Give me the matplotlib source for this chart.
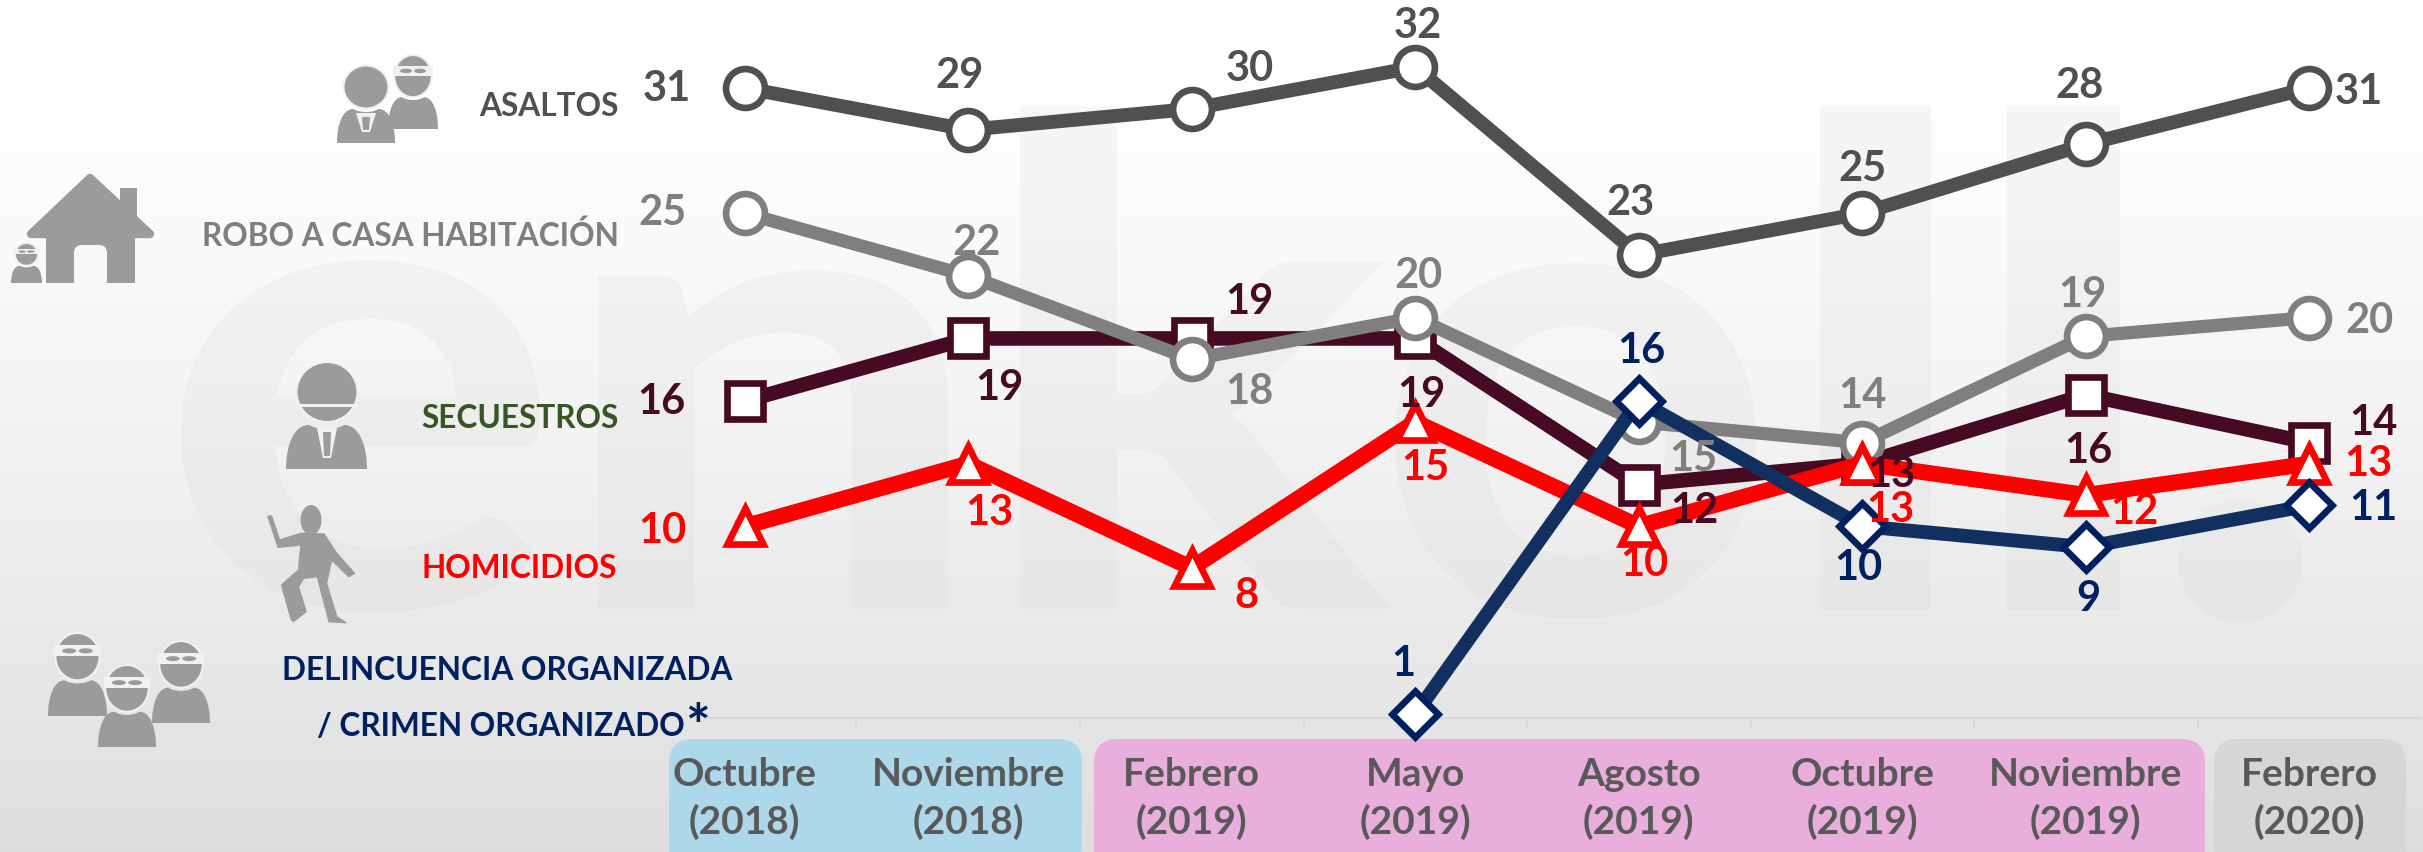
import matplotlib
matplotlib.use('Agg')
import matplotlib.pyplot as plt
import numpy as np
from matplotlib.patches import Ellipse, FancyBboxPatch, PathPatch, Polygon, Rectangle
from matplotlib.path import Path
from matplotlib.textpath import TextPath
from matplotlib.font_manager import FontProperties
from matplotlib.transforms import Affine2D

plt.rcParams['font.family'] = ['Lato', 'DejaVu Sans']
plt.rcParams['font.weight'] = 'bold'

meses = ['Octubre\n(2018)', 'Noviembre\n(2018)', 'Febrero\n(2019)', 'Mayo\n(2019)',
         'Agosto\n(2019)', 'Octubre\n(2019)', 'Noviembre\n(2019)', 'Febrero\n(2020)']
asaltos = [31, 29, 30, 32, 23, 25, 28.3, 31]
robo = [25, 22, 18, 20, 15, 14, 19.1, 20]
secuestros = [16, 19, 19, 19, 12, 13, 16.3, 14]
homicidios = [10, 13, 8, 15, 10, 13, 11.5, 13]
delincuencia = [np.nan, np.nan, np.nan, 1, 16, 10, 9, 11]

W, H = 2423, 852
ICON = '#9b9b9b'
BAND = '#f1f1f1'

fig = plt.figure(figsize=(W / 100, H / 100), dpi=100)

# fondo en pixeles
bg = fig.add_axes([0, 0, 1, 1], zorder=0)
bg.axis('off')
grad = np.linspace(0, 1, 256).reshape(-1, 1) ** 1.4
bg.imshow(grad, extent=(0, W, H, 0), aspect='auto', cmap='gray_r', vmin=0, vmax=7.5, zorder=0)
bg.set_xlim(0, W)
bg.set_ylim(H, 0)

# marca de agua, letra por letra
prop = FontProperties(family='Lato', weight='bold')
for ch, x0, x1, y0, y1 in [('e', 181, 540, 260, 612), ('n', 598, 948, 270, 609), ('k', 1020, 1391, 106, 609),
                           ('o', 1395, 1756, 263, 619), ('l', 1820, 1931, 106, 610), ('l', 2007, 2120, 106, 610),
                           ('.', 2178, 2303, 500, 622)]:
    tp = TextPath((0, 0), ch, size=100, prop=prop)
    bb = tp.get_extents()
    tr = (Affine2D().translate(-bb.x0, -bb.y0)
          .scale((x1 - x0) / bb.width, -(y1 - y0) / bb.height)
          .translate(x0, y1))
    bg.add_patch(PathPatch(tr.transform_path(tp), fc='#d0d0d0', ec='none', alpha=0.16, zorder=1))

# franjas de periodos
for x0, x1, col in [(669, 1082, '#add8e9'), (1094, 2205, '#e9aedb'), (2214, 2406, '#d6d6d6')]:
    bg.add_patch(FancyBboxPatch((x0 + 24, 739 + 24), x1 - x0 - 48, 160,
                                boxstyle='round,pad=24,rounding_size=24', fc=col, ec='none', zorder=2))


def cuerpo(x0, x1, y0, y1):
    # tronco en forma de campana
    w = x1 - x0
    verts = [(x0, y1), (x0, y0 + 0.45 * (y1 - y0)), (x0 + 0.1 * w, y0), (x0 + 0.28 * w, y0),
             (x0 + 0.4 * w, y0 + 0.12 * (y1 - y0)), (x0 + 0.6 * w, y0 + 0.12 * (y1 - y0)), (x0 + 0.72 * w, y0),
             (x0 + 0.9 * w, y0), (x1, y0 + 0.45 * (y1 - y0)), (x1, y1), (x0, y1)]
    codes = [Path.MOVETO, Path.CURVE4, Path.CURVE4, Path.CURVE4, Path.CURVE4, Path.CURVE4, Path.CURVE4,
             Path.CURVE4, Path.CURVE4, Path.CURVE4, Path.CLOSEPOLY]
    bg.add_patch(PathPatch(Path(verts, codes), fc=ICON, ec='none', zorder=3))


def enmascarado(x0, x1, y0, y1):
    w, h = x1 - x0, y1 - y0
    cx = (x0 + x1) / 2
    cuerpo(x0, x1, y0 + 0.57 * h, y1)
    bg.add_patch(Ellipse((cx, y0 + 0.285 * h), 0.75 * w, 0.57 * h, fc=ICON, ec=BAND, lw=1.5, zorder=4))
    bg.add_patch(Rectangle((cx - 0.4 * w, y0 + 0.15 * h), 0.8 * w, 0.13 * h, fc=BAND, ec='none', zorder=5))
    for dx in (-0.14, 0.14):
        bg.add_patch(Ellipse((cx + dx * w, y0 + 0.215 * h), 0.24 * w, 0.06 * h, fc=ICON, ec='none', zorder=6))


def corbata(cx, y0, y1):
    bg.add_patch(Polygon([(cx - 10, y0), (cx + 10, y0), (cx + 4, y1), (cx - 4, y1)], fc=BAND, ec='none', zorder=5))
    bg.add_patch(Polygon([(cx - 4, y0 + 4), (cx + 4, y0 + 4), (cx + 3, y1 - 2), (cx - 3, y1 - 2)],
                         fc=ICON, ec='none', zorder=6))


# asaltos
enmascarado(388, 438, 55, 129)
cuerpo(337, 395, 109, 143)
bg.add_patch(Ellipse((366, 87), 45, 43, fc=ICON, ec=BAND, lw=1.5, zorder=4))
corbata(366, 113, 132)

# casa
bg.add_patch(Rectangle((120, 188), 17, 50, fc=ICON, ec='none', zorder=3))
bg.add_patch(Polygon([(90, 178), (150, 234), (31, 234)], fc=ICON, ec=ICON, lw=6, joinstyle='round', zorder=3))
bg.add_patch(Rectangle((46, 232), 89, 51, fc=ICON, ec='none', zorder=3))
bg.add_patch(FancyBboxPatch((79, 250), 23, 33, boxstyle='round,pad=5,rounding_size=8', fc='#f8f8f8', ec='none', zorder=4))
enmascarado(11, 42, 243, 283)

# secuestrado
cuerpo(286, 367, 425, 469)
bg.add_patch(Ellipse((327, 392), 61, 60, fc=ICON, ec=BAND, lw=1.5, zorder=4))
bg.add_patch(Rectangle((295, 404), 64, 3, fc=BAND, ec='none', zorder=5))
corbata(327, 428, 458)

# figura homicidios
bg.add_patch(Ellipse((311, 520), 21, 30, fc=ICON, ec='none', zorder=3))
fig_x = [525, 532, 548, 590, 635, 660, 695, 684, 650, 640, 660, 678, 645, 622, 595, 585, 600, 575, 570, 552, 585, 590, 545]
fig_y = [258, 258, 330, 310, 312, 370, 430, 440, 390, 460, 560, 578, 575, 440, 445, 470, 545, 575, 565, 465, 420, 345, 352]
bg.add_patch(Polygon([(x / 1.96, 430 + y / 3) for x, y in zip(fig_x, fig_y)], fc=ICON, ec=ICON, lw=1,
                     joinstyle='round', zorder=3))

# grupo delincuencia
enmascarado(48, 107, 633, 716)
enmascarado(152, 210, 641, 723)
enmascarado(98, 156, 665, 747)

# etiquetas de categoria
for txt, x, y, col in [('ASALTOS', 619, 106, '#505050'),
                       ('ROBO A CASA HABITACIÓN', 619, 236, '#7f7f7f'),
                       ('SECUESTROS', 619, 418, '#375623'),
                       ('HOMICIDIOS', 617, 568, '#ff0000')]:
    bg.text(x, y, txt, ha='right', va='center', color=col, fontsize=22.8, zorder=8)
bg.text(732, 671, 'DELINCUENCIA ORGANIZADA', ha='right', va='center', color='#002060', fontsize=22.8, zorder=8)
bg.text(685, 726, '/ CRIMEN ORGANIZADO', ha='right', va='center', color='#002060', fontsize=22.8, zorder=8)
bg.text(697, 730, '*', ha='center', va='center', color='#002060', fontsize=42, zorder=8)

# grafica
px_per_unit = 20.87
ax = fig.add_axes([633 / W, (H - 718) / H, (2421 - 633) / W, 718 / H], zorder=2)
ax.patch.set_alpha(0)
x = np.arange(len(meses))
ax.set_xlim(-0.5, 7.5)
ax.set_ylim(31 - (718 - 88) / px_per_unit, 31 + 88 / px_per_unit)

series = [
    (asaltos, '#505050', 10, 'o', 28, '#505050', [(-78, -1), (-9, 54), (58, 40), (3, 41), (-8, 52), (0, 44), (-6, 58), (50, -4)]),
    (secuestros, '#470a23', 10.5, 's', 26, '#470a23', [(-83, -1), (31, -50), (58, 36), (6, -57), (56, -26), (29, -11), (3, -56), (64, 20)]),
    (robo, '#7f7f7f', 9.5, 'o', 28, '#7f7f7f', [(-82, 0), (8, 33), (58, -33), (3, 42), (55, -37), (0, 47), (-3, 41), (60, -3)]),
    (homicidios, '#ff0000', 11.5, '^', 26, '#ff0000', [(-82, -5), (21, -49), (55, -28), (10, -46), (6, -38), (28, -46), (49, -17), (59, 0)]),
    (delincuencia, '#12305f', 10, 'D', 23, '#002060', [(0, 0), (0, 0), (0, 0), (-12, 50), (3, 50), (-4, -42), (3, -52), (64, -3)]),
]

for vals, col, lw, mk, ms, txt_col, offs in series:
    ax.plot(x, vals, color=col, lw=lw, solid_joinstyle='miter', zorder=3, clip_on=False)
    ax.plot(x, vals, ls='none', marker=mk, ms=ms, mfc='white', mec=txt_col, mew=4.8, zorder=3, clip_on=False)
    for xi, v, off in zip(x, vals, offs):
        if np.isnan(v):
            continue
        ax.annotate(f'{v:.0f}', (xi, v), xytext=off, textcoords='offset pixels', ha='center', va='center',
                    color=txt_col, fontsize=30, zorder=6, annotation_clip=False)

# eje
for s in ['top', 'left', 'right']:
    ax.spines[s].set_visible(False)
ax.spines['bottom'].set_color('#d9d9d9')
ax.spines['bottom'].set_linewidth(1.5)
ax.spines['bottom'].set_bounds(-0.17, 7.5)
ax.set_yticks([])
ax.set_xticks(x)
ax.set_xticklabels(meses, fontsize=28, color='#595959', linespacing=1.38)
ax.tick_params(axis='x', which='major', length=0, pad=28)
ax.set_xticks(x[:-1] + 0.5, minor=True)
ax.tick_params(axis='x', which='minor', length=8, width=1.2, color='#d9d9d9')

fig.savefig('out.png', dpi=100)
